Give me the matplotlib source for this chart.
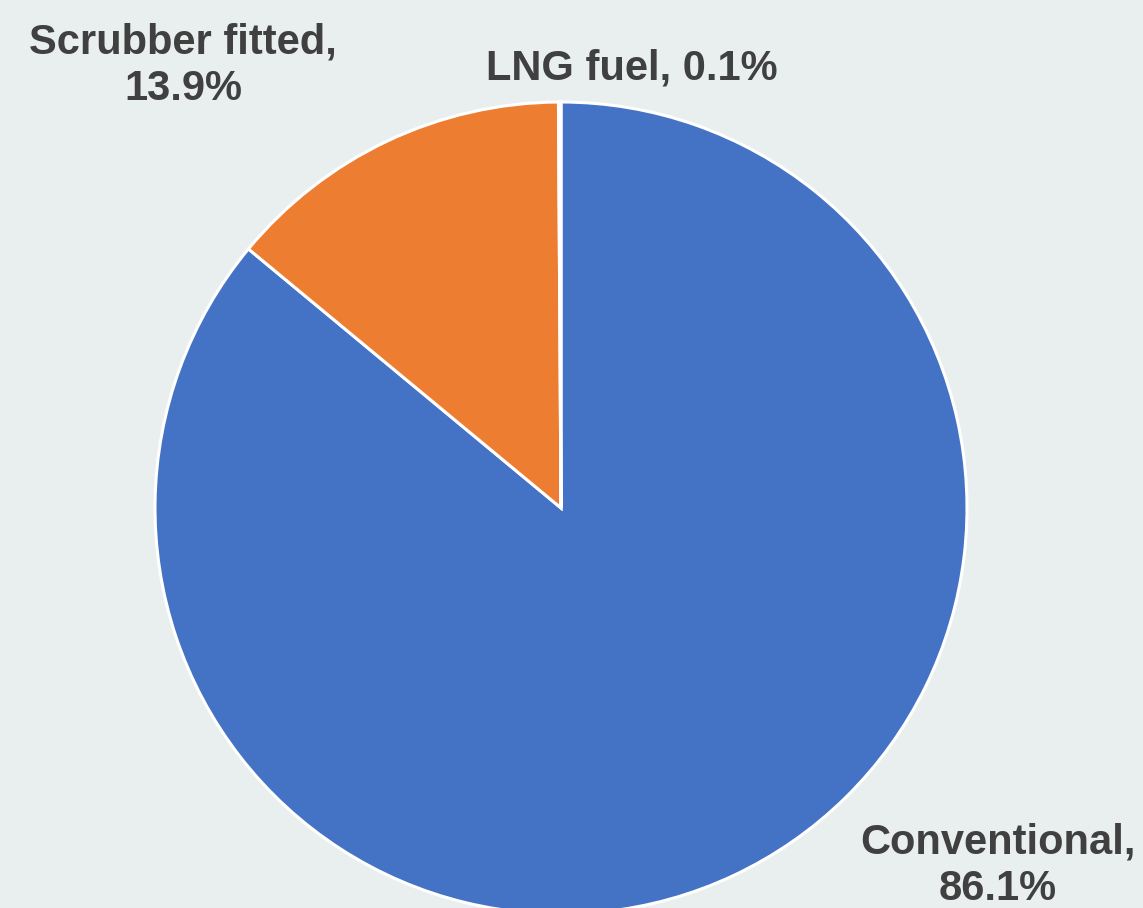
import matplotlib.pyplot as plt

# data
labels = ['Conventional', 'Scrubber fitted', 'LNG fuel']
shares = [86.1, 13.9, 0.1]
colors = ['#4472C4', '#ED7D31', '#A5A5A5']

bg = '#E9EFEF'
txtcol = '#404040'

plt.rcParams['font.family'] = ['Liberation Sans', 'DejaVu Sans']

fig = plt.figure(figsize=(11.43, 9.08), dpi=100, facecolor=bg)
ax = fig.add_axes([0, 0, 1, 1])
ax.set_facecolor(bg)

# work in pixel units so the pie sits where it does in the original
ax.pie(shares, colors=colors, startangle=90, counterclock=False,
       center=(561, 400), radius=406,
       wedgeprops=dict(edgecolor='white', linewidth=2.2))
ax.set_xlim(0, 1143)
ax.set_ylim(0, 908)
ax.set_aspect('equal')
ax.axis('off')

fs = 30
# va='baseline' lines up the last line of a multi-line label
ax.text(183, 908 - 100, f'{labels[1]},\n{shares[1]:.1f}%', ha='center', va='baseline',
        fontsize=fs, fontweight='bold', color=txtcol, linespacing=1.22)
ax.text(632, 908 - 80, f'{labels[2]}, {shares[2]:.1f}%', ha='center', va='baseline',
        fontsize=fs, fontweight='bold', color=txtcol)
ax.text(998, 908 - 900, f'{labels[0]},\n{shares[0]:.1f}%', ha='center', va='baseline',
        fontsize=fs, fontweight='bold', color=txtcol, linespacing=1.22)

fig.savefig('out.png', dpi=100, facecolor=bg)
